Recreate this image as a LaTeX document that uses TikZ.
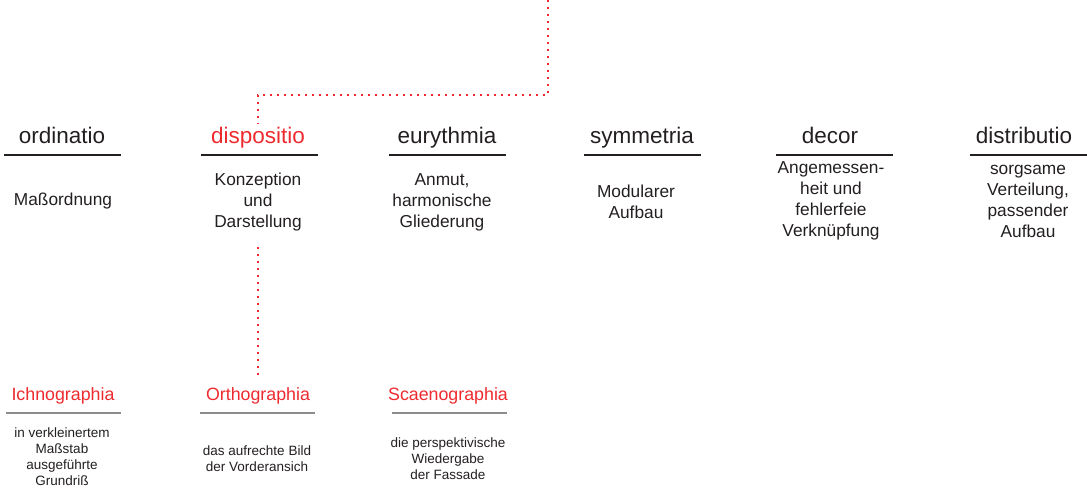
\documentclass[tikz,border=0pt]{standalone}
\usepackage{fontspec}
\setmainfont{Liberation Sans}
\definecolor{vred}{HTML}{EE2A2F}
\definecolor{vtext}{HTML}{231F20}
\definecolor{vgray}{HTML}{8C8C8C}
\tikzset{
  head/.style={anchor=base, text=vtext, font=\fontsize{22.5}{25}\selectfont, inner sep=4pt},
  redhead/.style={head, text=vred},
  sub/.style={align=center, text=vtext, font=\fontsize{17.3}{21}\selectfont, inner sep=4pt},
  lowhead/.style={anchor=base, text=vred, font=\fontsize{17.8}{20}\selectfont, inner sep=4pt},
  small/.style={align=center, text=vtext, font=\fontsize{13.5}{16}\selectfont, inner sep=3pt},
  toprule/.style={rectangle, fill=vtext, draw=none, inner sep=0pt, minimum width=117pt, minimum height=1.1pt},
  lowrule/.style={rectangle, fill=vgray, draw=none, inner sep=0pt, minimum width=115pt, minimum height=2.4pt},
  dots/.style={draw=vred, line width=2pt, dash pattern=on 2pt off 5pt}
}
\begin{document}
\begin{tikzpicture}[x=1pt,y=-1pt]
\useasboundingbox (0,0) rectangle (1087,489);

% top headings
\node[head]    (ord)  at (62,144)   {ordinatio};
\node[redhead] (disp) at (258,144)  {dispositio};
\node[head]    (eur)  at (447,144)  {eurythmia};
\node[head]    (sym)  at (642,144)  {symmetria};
\node[head]    (dec)  at (830,144)  {decor};
\node[head]    (dis)  at (1024,144) {distributio};

% top rules
\node[toprule] (ordR)  at (62,155)   {};
\node[toprule] (dispR) at (259,155)  {};
\node[toprule] (eurR)  at (447,155)  {};
\node[toprule] (symR)  at (642,155)  {};
\node[toprule] (decR)  at (834,155)  {};
\node[toprule] (disR)  at (1028,155) {};

% descriptions
\node[sub] (ordS)  at (63,201)   {Maßordnung};
\node[sub] (dispS) at (258,202)  {Konzeption\\und\\Darstellung};
\node[sub] (eurS)  at (442,202)  {Anmut,\\harmonische\\Gliederung};
\node[sub] (symS)  at (636,202)  {Modularer\\Aufbau};
\node[sub] (decS)  at (831,201)  {Angemessen-\\heit und\\fehlerfeie\\Verknüpfung};
\node[sub] (disS)  at (1028,201) {sorgsame\\Verteilung,\\passender\\Aufbau};

% lower headings
\node[lowhead] (ich) at (63,400)  {Ichnographia};
\node[lowhead] (ort) at (258,400) {Orthographia};
\node[lowhead] (sca) at (448,400) {Scaenographia};

\node[lowrule] (ichR) at (63,413)  {};
\node[lowrule] (ortR) at (257,413) {};
\node[lowrule] (scaR) at (449,413) {};

\node[small] (ichS) at (62,457)  {in verkleinertem\\Maßstab\\ausgeführte\\Grundriß};
\node[small] (ortS) at (257,459) {das aufrechte Bild\\der Vorderansich};
\node[small] (scaS) at (448,459) {die perspektivische\\Wiedergabe\\der Fassade};

% dotted connectors
\coordinate (top)  at (548,0);
\coordinate (bend) at (548,95);
\draw[dots] (top) -- (bend) -| (disp.north);
\draw[dots, shorten <=12pt, shorten >=6pt] (dispS.south) -- (dispS.south |- ort.north);
\end{tikzpicture}
\end{document}
